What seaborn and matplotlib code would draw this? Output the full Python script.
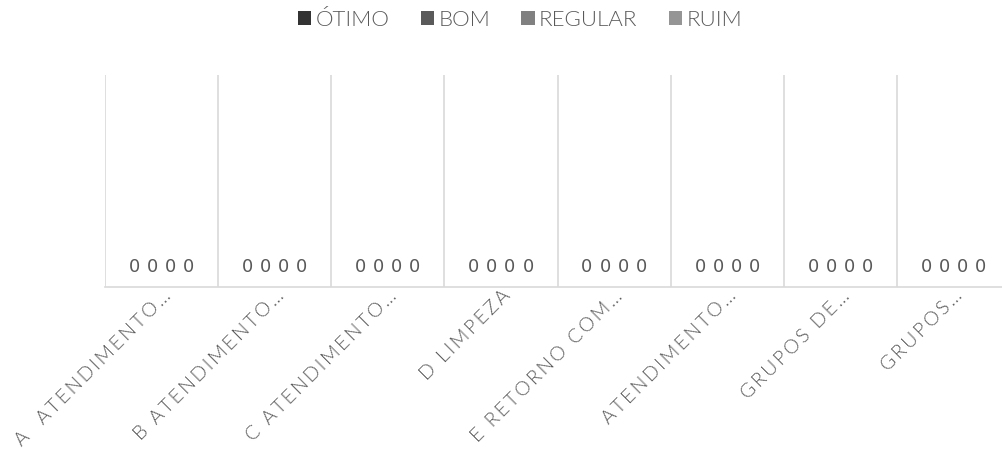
import matplotlib
matplotlib.use("Agg")
import matplotlib.pyplot as plt
import matplotlib.transforms as mtransforms
from matplotlib.patches import Patch
import seaborn as sns
import pandas as pd

categories = [
    "A  ATENDIMENTO…",
    "B ATENDIMENTO…",
    "C ATENDIMENTO…",
    "D LIMPEZA",
    "E RETORNO COM…",
    "ATENDIMENTO…",
    "GRUPOS DE…",
    "GRUPOS…",
]
series = ["ÓTIMO", "BOM", "REGULAR", "RUIM"]
otimo = [0, 0, 0, 0, 0, 0, 0, 0]
bom = [0, 0, 0, 0, 0, 0, 0, 0]
regular = [0, 0, 0, 0, 0, 0, 0, 0]
ruim = [0, 0, 0, 0, 0, 0, 0, 0]
colors = ["#333333", "#5a5a5a", "#808080", "#959595"]

rows = []
for name, vals in zip(series, [otimo, bom, regular, ruim]):
    for cat, v in zip(categories, vals):
        rows.append({"categoria": cat, "avaliacao": name, "valor": v})
df = pd.DataFrame(rows)

sns.set_theme(style="white")
plt.rcParams["font.family"] = ["Lato", "DejaVu Sans"]
text_color = "#595959"
grid_color = "#d9d9d9"


def spaced(s):
    # letter-spaced caption (thin space between glyphs)
    return "\u2009".join(s)


fig = plt.figure(figsize=(10.03, 4.70), dpi=100)
ax = fig.add_axes([105 / 1003, 1 - 287 / 470, (1010 - 105) / 1003, (287 - 75) / 470])

sns.barplot(data=df, x="categoria", y="valor", hue="avaliacao",
            palette=colors, width=0.64, ax=ax, legend=False,
            errorbar=None)

ax.set_xlim(-0.5, len(categories) - 0.5)
ax.set_ylim(0, 1)

# value labels above each bar
for container in ax.containers:
    ax.bar_label(container, fmt="%g", padding=8, color=text_color,
                 fontsize=13, family="DejaVu Sans")

# category separators
ax.set_xticks([i + 0.5 for i in range(-1, len(categories))], minor=True)
ax.grid(True, axis="x", which="minor", color=grid_color, linewidth=1.2)
ax.tick_params(axis="x", which="both", length=0, pad=0)
ax.set_yticks([])
for side in ["top", "right", "left"]:
    ax.spines[side].set_visible(False)
ax.spines["bottom"].set_color(grid_color)
ax.spines["bottom"].set_linewidth(1.2)
ax.set_xlabel("")
ax.set_ylabel("")

ax.set_xticks(range(len(categories)))
ax.set_xticklabels([spaced(c) for c in categories], rotation=45, ha="right",
                   va="baseline", rotation_mode="anchor", color=text_color,
                   fontsize=14, fontweight=300)
offset = mtransforms.ScaledTranslation(10 / 100, -10 / 100, fig.dpi_scale_trans)
for lbl in ax.get_xticklabels():
    lbl.set_transform(lbl.get_transform() + offset)

handles = [Patch(facecolor=c, edgecolor="none") for c in colors]
fig.legend(handles, series, loc="center", bbox_to_anchor=(520 / 1003, 1 - 20 / 470),
           ncol=4, frameon=False, labelcolor=text_color,
           prop={"size": 16, "weight": 300},
           handlelength=0.6, handleheight=0.6, handletextpad=0.2,
           columnspacing=1.4)

fig.savefig("out.png", dpi=100, facecolor="white")
